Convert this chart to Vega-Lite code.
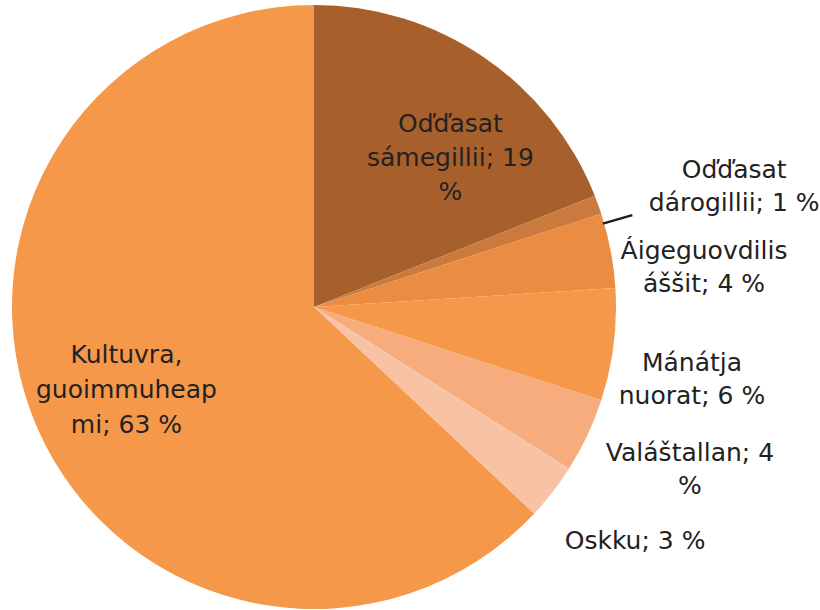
{
  "$schema": "https://vega.github.io/schema/vega-lite/v6.json",
  "width": 628,
  "height": 610,
  "padding": {"left": 0, "top": 0, "right": 192, "bottom": 0},
  "autosize": {"type": "none"},
  "background": "white",
  "config": {"view": {"stroke": null}, "text": {"font": "DejaVu Sans"}},
  "data": {
    "values": [
      {"id": "sam", "txt": "Oďďasat\nsámegillii; 19\n%", "value": 19},
      {"id": "dar", "txt": "Oďďasat\ndárogillii; 1 %", "value": 1},
      {"id": "aig", "txt": "Áigeguovdilis\náššit; 4 %", "value": 4},
      {"id": "man", "txt": "Mánátja\nnuorat; 6 %", "value": 6},
      {"id": "val", "txt": "Valáštallan; 4\n%", "value": 4},
      {"id": "osk", "txt": "Oskku; 3 %", "value": 3},
      {"id": "kul", "txt": "Kultuvra,\nguoimmuheap\nmi; 63 %", "value": 63}
    ]
  },
  "transform": [{"window": [{"op": "row_number", "as": "idx"}]}],
  "encoding": {
    "theta": {"field": "value", "type": "quantitative", "stack": true},
    "order": {"field": "idx", "type": "quantitative"}
  },
  "layer": [
    {
      "mark": {"type": "arc", "outerRadius": 302, "y": 307},
      "encoding": {
        "color": {
          "field": "id",
          "type": "nominal",
          "legend": null,
          "scale": {
            "domain": ["sam", "dar", "aig", "man", "val", "osk", "kul"],
            "range": ["#A7602B", "#C97A3C", "#EA8D43", "#F6984A", "#F6AC7C", "#F8C3A4", "#F6984A"]
          }
        }
      }
    },
    {
      "mark": {"type": "text", "radius": 200, "dx": 24, "dy": -16, "fontSize": 25, "lineHeight": 34, "lineBreak": "\n", "fill": "#222222"},
      "encoding": {"text": {"condition": {"test": "datum.id === 'sam'", "field": "txt"}, "value": ""}}
    },
    {
      "mark": {"type": "text", "radius": 420, "dx": 25, "dy": 7, "fontSize": 25, "lineHeight": 33, "lineBreak": "\n", "fill": "#222222"},
      "encoding": {"text": {"condition": {"test": "datum.id === 'dar'", "field": "txt"}, "value": ""}}
    },
    {
      "mark": {"type": "text", "radius": 395, "dx": 2, "dy": 20, "fontSize": 25, "lineHeight": 33, "lineBreak": "\n", "fill": "#222222"},
      "encoding": {"text": {"condition": {"test": "datum.id === 'aig'", "field": "txt"}, "value": ""}}
    },
    {
      "mark": {"type": "text", "radius": 385, "dx": -4, "dy": 10, "fontSize": 25, "lineHeight": 33, "lineBreak": "\n", "fill": "#222222"},
      "encoding": {"text": {"condition": {"test": "datum.id === 'man'", "field": "txt"}, "value": ""}}
    },
    {
      "mark": {"type": "text", "radius": 410, "dx": 5, "dy": -27, "fontSize": 25, "lineHeight": 33, "lineBreak": "\n", "fill": "#222222"},
      "encoding": {"text": {"condition": {"test": "datum.id === 'val'", "field": "txt"}, "value": ""}}
    },
    {
      "mark": {"type": "text", "radius": 400, "dx": 5, "dy": -9, "fontSize": 25, "lineHeight": 33, "lineBreak": "\n", "fill": "#222222"},
      "encoding": {"text": {"condition": {"test": "datum.id === 'osk'", "field": "txt"}, "value": ""}}
    },
    {
      "mark": {"type": "text", "radius": 200, "dx": -4, "dy": -29, "fontSize": 25, "lineHeight": 35, "lineBreak": "\n", "fill": "#222222"},
      "encoding": {"text": {"condition": {"test": "datum.id === 'kul'", "field": "txt"}, "value": ""}}
    },
    {
      "mark": {"type": "text", "radius": 324, "dx": -8, "dy": 22, "angle": 344, "fontSize": 34, "fill": "#222222"},
      "encoding": {"text": {"condition": {"test": "datum.id === 'dar'", "value": "—"}, "value": ""}}
    }
  ]
}
